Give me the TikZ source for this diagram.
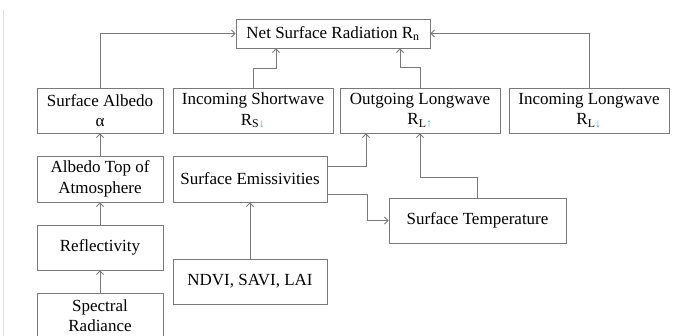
\documentclass[tikz,border=0pt]{standalone}
\usepackage{fontspec}
\setmainfont{Liberation Serif}
\usetikzlibrary{arrows.meta}
\definecolor{linegray}{HTML}{7A7A7A}
\definecolor{arrowteal}{HTML}{4BACC6}
\definecolor{edgegray}{HTML}{E2E2E2}
\newcommand{\tarr}[1]{\textcolor{arrowteal}{#1}}
\begin{document}
\begin{tikzpicture}[x=1pt,y=-1pt,
  box/.style={draw=linegray, line width=0.9pt, inner sep=0pt, align=center,
    font=\fontsize{17}{20.5}\selectfont, text=black},
  arr/.style={draw=linegray, line width=0.9pt, -{Straight Barb[length=3.5pt,width=7pt]}},
  ln/.style={draw=linegray, line width=0.9pt}]
\useasboundingbox (0,0) rectangle (678,336);
\clip (0,0) rectangle (678,336);
\draw[edgegray, line width=0.8pt] (3,10) -- (3,336);
\node[box, minimum width=194pt, minimum height=29pt] (net) at (333,33.5) {Net Surface Radiation R\textsubscript{n}};
\node[box, minimum width=126pt, minimum height=45pt] (alb) at (100,110.5) {Surface Albedo\\α};
\node[box, minimum width=160pt, minimum height=45pt] (isw) at (253,110.5) {Incoming Shortwave\\R\textsubscript{S\tarr{↓}}};
\node[box, minimum width=160pt, minimum height=45pt] (olw) at (420,110.5) {Outgoing Longwave\\R\textsubscript{L\tarr{↑}}};
\node[box, minimum width=160pt, minimum height=45pt] (ilw) at (589,110.5) {Incoming Longwave\\R\textsubscript{L\tarr{↓}}};
\node[box, minimum width=126pt, minimum height=46pt] (toa) at (100,179) {Albedo Top of\\Atmosphere};
\node[box, minimum width=126pt, minimum height=45pt] (refl) at (100,247.5) {Reflectivity};
\node[box, minimum width=126pt, minimum height=45pt] (spec) at (100,315.5) {Spectral\\Radiance};
\node[box, minimum width=154pt, minimum height=46pt] (emis) at (250,179) {Surface Emissivities};
\node[box, minimum width=154pt, minimum height=45pt] (ndvi) at (250,281.5) {NDVI, SAVI, LAI};
\node[box, minimum width=177pt, minimum height=45pt] (temp) at (477.5,220.5) {Surface Temperature};
% connectors
\draw[arr] (alb.north) |- (net.west);
\draw[arr] (isw.north) |- ([xshift=-57pt,yshift=-20pt]net.south) -- ([xshift=-57pt]net.south);
\draw[arr] (olw.north) |- ([xshift=67pt,yshift=-19pt]net.south) -- ([xshift=67pt]net.south);
\draw[arr] (ilw.north) |- (net.east);
\draw[arr] (toa.north) -- (alb.south);
\draw[arr] (refl.north) -- (toa.south);
\draw[arr] (spec.north) -- (refl.south);
\draw[arr] (ndvi.north) -- (emis.south);
\draw[arr] ([yshift=13pt]emis.east) -| ([xshift=-54pt]olw.south);
\draw[arr] ([yshift=-15pt]emis.east) -- ++(40pt,0) |- (temp.west);
\draw[arr] (temp.north) |- ([yshift=-44pt]olw.south) -- (olw.south);
\end{tikzpicture}
\end{document}
